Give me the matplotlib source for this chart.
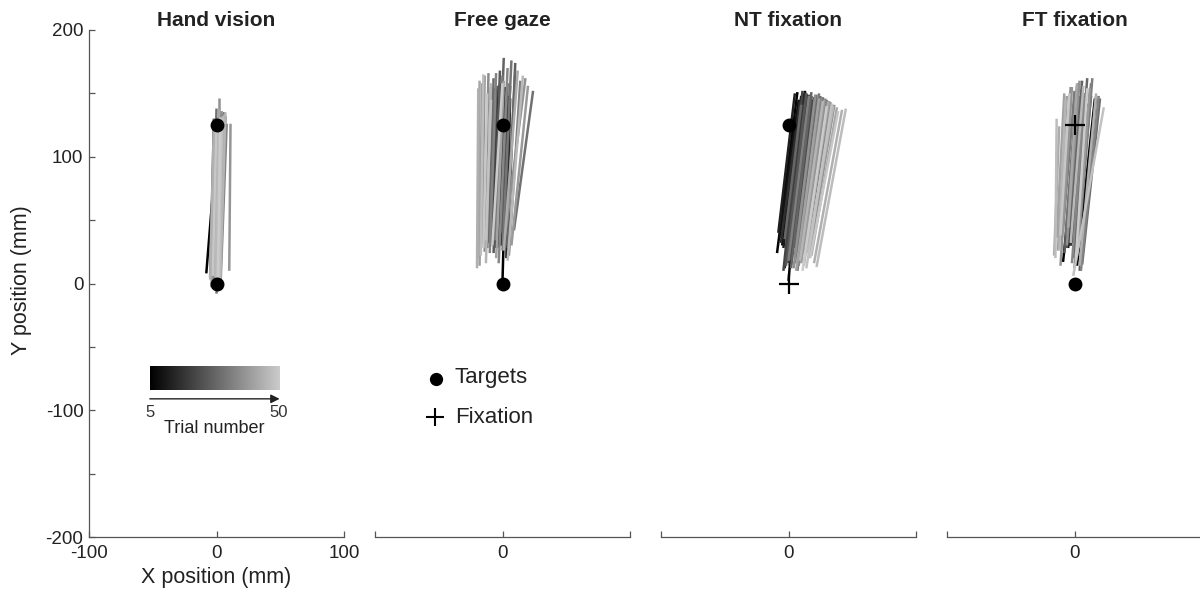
import numpy as np
import matplotlib
matplotlib.use("Agg")
import matplotlib.pyplot as plt
from matplotlib.colors import LinearSegmentedColormap

plt.rcParams['font.family'] = ['Liberation Sans', 'DejaVu Sans']
plt.rcParams['axes.unicode_minus'] = False

# Trials 5..50, one straight reach per trial (start -> end), in mm
trials = np.arange(5, 51)

titles = ["Hand vision", "Free gaze", "NT fixation", "FT fixation"]

# Hand vision
hv_x0 = [-8, -2, -1, 0, -2, -1, 1, -2, 0, -1, -3, -1, -2, 0, -3, 1, -1, -4, 0, 2,
         -2, 0, 1, -5, 2, -3, 0, 1, -1, 3, -2, 1, 2, 10, 0, -4, 2, -2, 1, -5,
         3, -1, 0, 2, -3, 1]
hv_y0 = [8, 6, 5, 4, 7, 3, 6, 2, 5, 4, 3, 0, 5, -2, 4, 1, -4, 6, 2, -1,
         -3, 4, 0, 5, -2, 5, -8, 3, 1, -5, 2, 6, -1, 10, 4, -3, 0, 8, -6, 3,
         1, 5, -2, 2, 6, 0]
hv_x1 = [1, 2, 3, 2, 1, 3, 2, 2, 3, 2, 0, 4, 3, 5, 1, 6, 3, -2, 4, 7,
         1, 5, 3, -2, 6, 0, 4, 5, 2, 8, 3, 4, 2, 11, 5, -1, 6, 2, 4, -2,
         7, 2, 5, 4, 0, 3]
hv_y1 = [120, 124, 124, 122, 126, 124, 122, 125, 124, 126, 131, 126, 133, 124, 128, 135, 122, 130, 127, 132,
         125, 134, 128, 130, 126, 138, 120, 132, 128, 126, 130, 136, 146, 126, 131, 128, 134, 138, 124, 129,
         135, 127, 132, 130, 128, 131]

# Free gaze
fg_x0 = [0, -3, -5, -2, -6, -4, -1, -7, -3, 3, -5, -8, -2, -6, -4, -10, 1, -9, -12, -1,
         -7, 4, -4, 3, -11, 9, 0, -6, 5, -10, -3, -14, 2, -16, 7, -18, -5, -19, 1, -20,
         -13, 4, -17, -13, -15, -8]
fg_y0 = [2, 30, 32, 35, 28, 34, 30, 38, 33, 20, 36, 32, 30, 38, 28, 34, 32, 30, 28, 40,
         24, 28, 44, 30, 32, 42, 26, 34, 22, 24, 16, 25, 38, 30, 30, 14, 20, 20, 26, 12,
         16, 18, 22, 34, 28, 30]
fg_x1 = [4, 3, 0, 2, -1, 2, 4, -3, 1, 6, -1, -5, 3, -2, 1, -7, 6, -5, -9, 4,
         -2, 10, 1, 10, -7, 24, 7, 0, 14, -5, 4, -11, 18, -14, 20, -16, 1, -18, 12, -19,
         -9, 16, -15, -9, -12, 0]
fg_y1 = [148, 150, 152, 155, 150, 154, 148, 156, 150, 146, 154, 156, 150, 158, 152, 154, 156, 150, 155, 158,
         168, 174, 178, 168, 162, 152, 176, 164, 160, 166, 170, 166, 162, 164, 156, 158, 160, 160, 168, 154,
         158, 164, 165, 145, 150, 158]

# NT fixation
nt_x0 = [0, -9, -5, -2, -7, 1, -4, -8, 2, -3, -6, 3, 0, -1, 5, -4, 4, 1, 7, -2,
         6, 9, 2, -3, 10, 5, 12, 7, 0, 14, 8, 11, 4, 16, 10, 13, 6, 18, 12, 20,
         9, 15, 22, 14, 17, 11]
nt_y0 = [2, 24, 30, 18, 36, 14, 28, 40, 22, 12, 32, 26, 16, 34, 20, 10, 28, 18, 24, 14,
         30, 20, 12, 35, 22, 16, 26, 10, 18, 28, 14, 24, 12, 20, 16, 28, 10, 22, 14, 16,
         18, 24, 13, 12, 20, 10]
nt_x1 = [13, 7, 10, 12, 8, 15, 11, 5, 16, 13, 9, 18, 14, 12, 20, 11, 19, 17, 22, 14,
         21, 25, 18, 10, 27, 22, 30, 24, 16, 33, 26, 29, 21, 36, 28, 32, 24, 38, 31, 42,
         27, 35, 45, 34, 39, 30]
nt_y1 = [152, 151, 148, 150, 145, 149, 147, 150, 146, 151, 143, 148, 150, 142, 147, 152, 145, 149, 146, 150,
         143, 148, 151, 141, 147, 149, 145, 150, 148, 143, 147, 146, 149, 141, 145, 144, 146, 139, 143, 137,
         144, 140, 138, 142, 136, 140]

# FT fixation
ft_x0 = [-9, 2, -4, -1, -5, 0, -3, 1, -4, -2, 0, -5, -3, 0, -4, 2, -6, -3, -6, 1,
         -8, 4, -4, -1, 6, -7, 0, -9, 3, 5, -2, -10, -6, -11, 2, -13, -14, -5, -16, 4,
         -12, -3, -15, -1, -11, 1]
ft_y0 = [17, 14, 30, 32, 28, 35, 30, 28, 32, 38, 30, 34, 30, 34, 36, 40, 30, 34, 28, 36,
         24, 10, 45, 20, 15, 38, 12, 42, 28, 10, 16, 34, 30, 14, 22, 26, 36, 44, 22, 14,
         26, 32, 20, 6, 38, 18]
ft_x1 = [4, 16, 6, 8, 4, 9, 6, 10, 5, 7, 8, 4, 6, 9, 5, 13, 6, 9, 3, 12,
         3, 17, 6, 10, 20, 2, 13, 0, 14, 19, 8, -3, 4, -2, 12, -6, -8, 2, -12, 17,
         -7, 7, -14, 23, -4, 10]
ft_y1 = [140, 146, 145, 148, 144, 146, 148, 142, 146, 150, 145, 148, 144, 150, 146, 148, 144, 150, 146, 146,
         158, 148, 160, 162, 146, 156, 158, 152, 162, 148, 150, 155, 160, 155, 154, 148, 150, 158, 124, 150,
         145, 156, 130, 139, 150, 154]

reaches = [
    (hv_x0, hv_y0, hv_x1, hv_y1),
    (fg_x0, fg_y0, fg_x1, fg_y1),
    (nt_x0, nt_y0, nt_x1, nt_y1),
    (ft_x0, ft_y0, ft_x1, ft_y1),
]

# target / fixation locations per condition (x, y)
target_pts = [[(0, 0), (0, 125)], [(0, 0), (0, 125)], [(0, 125)], [(0, 0)]]
fixation_pts = [[], [], [(0, 0)], [(0, 125)]]

trial_cmap = LinearSegmentedColormap.from_list("trial", ["#000000", "#cbcbcb"])
spine_col = "#555555"
text_col = "#222222"

W, H = 1200, 592
fig = plt.figure(figsize=(W / 100, H / 100), dpi=100)

lefts_px = [89, 375, 661, 947]
ax_w_px, ax_top_px, ax_bot_px = 255, 30, 537

axes = []
for k, left in enumerate(lefts_px):
    ax = fig.add_axes([left / W, (H - ax_bot_px) / H, ax_w_px / W, (ax_bot_px - ax_top_px) / H])
    axes.append(ax)
    ax.set_xlim(-100, 100)
    ax.set_ylim(-200, 200)
    for s in ["top", "right"]:
        ax.spines[s].set_visible(False)
    ax.spines["bottom"].set_color(spine_col)
    ax.spines["bottom"].set_linewidth(0.9)
    ax.set_xticks([-100, 0, 100])
    ax.tick_params(axis="both", which="both", direction="in", length=4, width=0.9,
                   color=spine_col, labelsize=13.5, labelcolor=text_col)
    ax.tick_params(axis="x", pad=6)
    ax.tick_params(axis="y", pad=4)
    if k == 0:
        ax.spines["left"].set_color(spine_col)
        ax.spines["left"].set_linewidth(0.9)
        ax.set_yticks([-200, -100, 0, 100, 200])
        ax.set_yticks([-150, -50, 50, 150], minor=True)
    else:
        ax.spines["left"].set_visible(False)
        ax.set_yticks([])
        ax.set_xticklabels(["", "0", ""])

    ax.set_title(titles[k], fontsize=15, fontweight="bold", color=text_col, pad=1)

    x0, y0, x1, y1 = reaches[k]
    n = len(trials)
    for i in range(n):
        c = trial_cmap((trials[i] - trials[0]) / (trials[-1] - trials[0]))
        ax.plot([x0[i], x1[i]], [y0[i], y1[i]], color=c, lw=1.8,
                solid_capstyle="butt", zorder=2 + i * 0.01)

    for (tx, ty) in target_pts[k]:
        ax.plot(tx, ty, "o", color="black", ms=9, zorder=5)
    for (fx, fy) in fixation_pts[k]:
        ax.plot(fx, fy, "+", color="black", ms=15, mew=1.6, zorder=5)

# axis titles
fig.text(22 / W, 1 - 280 / H, "Y position (mm)", rotation=90, fontsize=15.5,
         ha="center", va="center", color=text_col)
fig.text(216 / W, 1 - 578 / H, "X position (mm)", fontsize=15.5,
         ha="center", va="center", color=text_col)

# trial-number gradient key in the first panel
ax0 = axes[0]
grad = np.linspace(0, 1, 256)[None, :]
ax0.imshow(grad, cmap=trial_cmap, extent=[-52.3, 48.9, -84.4, -66], aspect="auto", zorder=3)
ax0.annotate("", xy=(49.5, -91), xytext=(-52.3, -91),
             arrowprops=dict(arrowstyle="-|>", color="#222222", lw=1.0,
                             mutation_scale=13, shrinkA=0, shrinkB=0))
ax0.text(-52.3, -101.5, "5", fontsize=12, ha="center", va="center", color="#333333")
ax0.text(48.9, -101.5, "50", fontsize=12, ha="center", va="center", color="#333333")
ax0.text(-1.6, -114.4, "Trial number", fontsize=13, ha="center", va="center", color=text_col)

# marker key in the second panel
ax1 = axes[1]
ax1.plot(-52.5, -75.2, "o", color="black", ms=8.5)
ax1.plot(-53.3, -105.5, "+", color="black", ms=13, mew=1.5)
ax1.text(-37.4, -74.5, "Targets", fontsize=16, va="center", ha="left", color=text_col)
ax1.text(-37.4, -105.5, "Fixation", fontsize=16, va="center", ha="left", color=text_col)

fig.savefig("out.png", dpi=100)
